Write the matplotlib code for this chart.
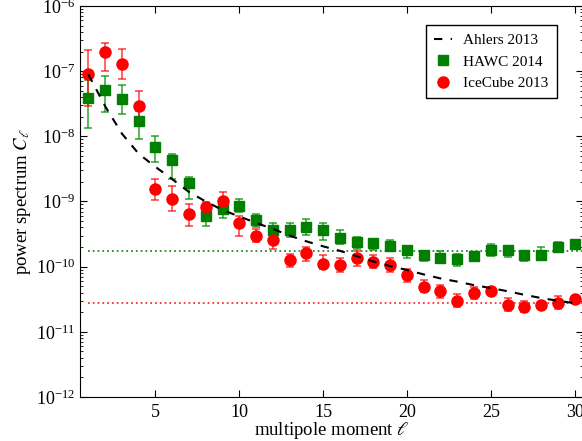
import numpy as np
import matplotlib
matplotlib.use("Agg")
import matplotlib.pyplot as plt
from matplotlib.ticker import LogLocator, FixedLocator, NullFormatter

plt.rcParams['font.family'] = ['Liberation Serif', 'DejaVu Serif']
plt.rcParams['mathtext.fontset'] = 'stix'

ell = list(range(1, 31))

ahlers = [8.9e-8, 2.9e-8, 1.1e-8, 5.4e-9, 3.4e-9, 2.2e-9, 1.4e-9, 1.0e-9, 7.4e-10, 5.9e-10,
          4.7e-10, 3.8e-10, 3.0e-10, 2.45e-10, 2.05e-10, 1.75e-10, 1.45e-10, 1.2e-10, 1.02e-10, 8.9e-11,
          7.6e-11, 6.6e-11, 5.9e-11, 5.2e-11, 4.7e-11, 4.2e-11, 3.7e-11, 3.3e-11, 3.0e-11, 2.75e-11]

hawc = [3.9e-8, 5.1e-8, 3.7e-8, 1.7e-8, 6.9e-9, 4.3e-9, 1.9e-9, 5.9e-10, 7.8e-10, 8.5e-10,
        5.2e-10, 3.6e-10, 3.7e-10, 4.1e-10, 3.6e-10, 2.8e-10, 2.4e-10, 2.3e-10, 2.1e-10, 1.8e-10,
        1.5e-10, 1.38e-10, 1.32e-10, 1.48e-10, 1.78e-10, 1.78e-10, 1.5e-10, 1.5e-10, 2.0e-10, 2.2e-10]
hawc_hi = [7.4e-8, 8.3e-8, 6.2e-8, 2.47e-8, 1.0e-8, 5.4e-9, 2.4e-9, 8.1e-10, 1.15e-9, 1.1e-9,
           6.5e-10, 4.6e-10, 4.75e-10, 5.3e-10, 4.6e-10, 3.7e-10, 2.9e-10, 2.7e-10, 2.55e-10, 2.06e-10,
           1.77e-10, 1.73e-10, 1.59e-10, 1.68e-10, 2.19e-10, 2.06e-10, 1.73e-10, 1.99e-10, 2.37e-10, 2.4e-10]
hawc_lo = [1.32e-8, 2.38e-8, 2.2e-8, 9.2e-9, 4.1e-9, 2.24e-9, 1.1e-9, 4.2e-10, 5.5e-10, 6.8e-10,
           4.1e-10, 2.9e-10, 2.9e-10, 3.1e-10, 2.6e-10, 2.19e-10, 1.9e-10, 1.79e-10, 1.73e-10, 1.34e-10,
           1.21e-10, 1.12e-10, 1.04e-10, 1.3e-10, 1.45e-10, 1.43e-10, 1.24e-10, 1.29e-10, 1.67e-10, 2.0e-10]

icecube = [8.9e-8, 1.95e-7, 1.3e-7, 2.9e-8, 1.55e-9, 1.1e-9, 6.4e-10, 8.3e-10, 1.0e-9, 4.6e-10,
           3.0e-10, 2.6e-10, 1.26e-10, 1.6e-10, 1.1e-10, 1.07e-10, 1.37e-10, 1.17e-10, 1.05e-10, 7.4e-11,
           4.9e-11, 4.2e-11, 3.0e-11, 3.9e-11, 4.2e-11, 2.6e-11, 2.4e-11, 2.6e-11, 2.8e-11, 3.2e-11]
icecube_hi = [2.12e-7, 2.69e-7, 2.17e-7, 5.0e-8, 2.2e-9, 1.75e-9, 9.3e-10, 9.9e-10, 1.38e-9, 5.9e-10,
              3.85e-10, 3.1e-10, 1.59e-10, 1.99e-10, 1.49e-10, 1.38e-10, 1.71e-10, 1.49e-10, 1.38e-10, 9.3e-11,
              6.2e-11, 5.15e-11, 3.75e-11, 4.9e-11, 4.6e-11, 3.26e-11, 2.97e-11, 2.9e-11, 3.5e-11, 3.6e-11]
icecube_lo = [2.9e-8, 1.02e-7, 7.6e-8, 1.84e-8, 1.07e-9, 7.2e-10, 4.2e-10, 5.8e-10, 7.3e-10, 3.0e-10,
              2.35e-10, 1.9e-10, 1.0e-10, 1.24e-10, 9.1e-11, 8.4e-11, 1.02e-10, 9.4e-11, 8.2e-11, 5.8e-11,
              4.07e-11, 3.34e-11, 2.43e-11, 3.15e-11, 3.8e-11, 2.08e-11, 1.99e-11, 2.25e-11, 2.21e-11, 2.8e-11]

hawc_noise = 1.73e-10
icecube_noise = 2.8e-11
noise_range = [1, 30.5]

xticks = [5, 10, 15, 20, 25, 30]

fig = plt.figure(figsize=(5.82, 4.41), dpi=100)
ax = fig.add_axes([80/582, 44/441, 503/582, 391/441])

ax.plot(noise_range, [hawc_noise]*2, ':', color='#2a8a2a', lw=1.3, zorder=1)
ax.plot(noise_range, [icecube_noise]*2, ':', color='#ff3030', lw=1.3, zorder=1)

h = np.array(hawc)
eh = [h - np.array(hawc_lo), np.array(hawc_hi) - h]
hc = ax.errorbar(ell, hawc, yerr=eh, fmt='s', color='#007f00', ms=7, mec='#007f00',
                 ecolor=(0.0, 0.55, 0.0, 0.75), elinewidth=1.2, capsize=2.8, capthick=1.2,
                 zorder=2)

c = np.array(icecube)
ec = [c - np.array(icecube_lo), np.array(icecube_hi) - c]
cc = ax.errorbar(ell, icecube, yerr=ec, fmt='o', color='#ff0000', ms=8, mec='#ff0000',
                 ecolor=(1.0, 0.0, 0.0, 0.7), elinewidth=1.2, capsize=2.8, capthick=1.2,
                 zorder=2)

al, = ax.plot(ell, ahlers, '--', color='black', lw=1.5, dashes=(4, 4), zorder=3)

ax.set_yscale('log')
ax.set_xlim(0.5, 30.5)
ax.set_ylim(1e-12, 1e-6)
ax.xaxis.set_major_locator(FixedLocator(xticks))
ax.yaxis.set_major_locator(LogLocator(base=10, numticks=20))
ax.yaxis.set_minor_locator(LogLocator(base=10, subs=np.arange(2, 10), numticks=20))
ax.yaxis.set_minor_formatter(NullFormatter())
ax.tick_params(which='both', direction='in', top=True, right=True, labelsize=13)
ax.tick_params(which='major', length=5, width=0.8)
ax.tick_params(which='minor', length=2.5, width=0.6)
ax.tick_params(axis='x', pad=5)

ax.set_xlabel(r'multipole moment $\ell$', fontsize=13.5, labelpad=-1)
ax.set_ylabel(r'power spectrum $C_\ell$', fontsize=13.5, labelpad=2)

leg = ax.legend([al, hc[0], cc[0]], ['Ahlers 2013', 'HAWC 2014', 'IceCube 2013'],
                loc='upper right', bbox_to_anchor=(0.948, 0.951), borderaxespad=0,
                fontsize=11, fancybox=False,
                edgecolor='black', framealpha=1, handlelength=1.2, numpoints=1,
                borderpad=0.55, labelspacing=0.5, handletextpad=0.7)
leg.get_frame().set_linewidth(1.0)

fig.savefig('out.png', dpi=100)
